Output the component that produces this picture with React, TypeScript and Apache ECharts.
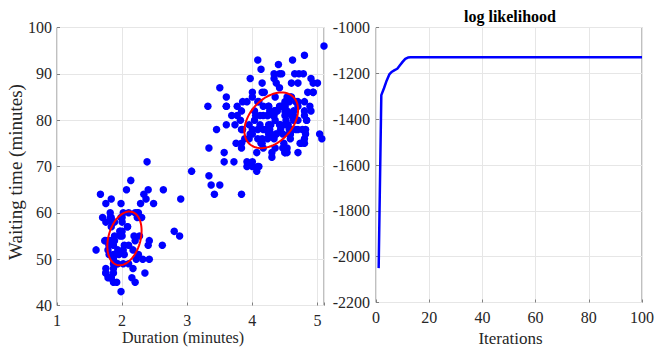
import React, { useEffect, useRef } from "react";
import * as echarts from "echarts";

const durations = [3.6,1.8,3.333,2.283,4.533,2.883,4.7,3.6,1.95,4.35,1.833,3.917,4.2,1.75,4.7,2.167,1.75,4.8,1.6,4.25,1.8,1.75,3.45,3.067,4.533,3.6,1.967,4.083,3.85,4.433,4.3,4.467,3.367,4.033,3.833,2.017,1.867,4.833,1.833,4.783,4.35,1.883,4.567,1.75,4.533,3.317,3.833,2.1,4.633,2,4.8,4.716,1.833,4.833,1.733,4.883,3.717,1.667,4.567,4.317,2.233,4.5,1.75,4.8,1.817,4.4,4.167,4.7,2.067,4.7,4.033,1.967,4.5,4,1.983,5.067,2.017,4.567,3.883,3.6,4.133,4.333,4.1,2.633,4.067,4.933,3.95,4.517,2.167,4,2.2,4.333,1.867,4.817,1.833,4.3,4.667,3.75,1.867,4.9,2.483,4.367,2.1,4.5,4.05,1.867,4.7,1.783,4.85,3.683,4.733,2.3,4.9,4.417,1.7,4.633,2.317,4.6,1.817,4.417,2.617,4.067,4.25,1.967,4.6,3.767,1.917,4.5,2.267,4.65,1.867,4.167,2.8,4.333,1.833,4.383,1.883,4.933,2.033,3.733,4.233,2.233,4.533,4.817,4.333,1.983,4.633,2.017,5.1,1.8,5.033,4,2.4,4.6,3.567,4,4.5,4.083,1.8,3.967,2.2,4.15,2,3.833,3.5,4.583,2.367,5,1.933,4.617,1.917,2.083,4.583,3.333,4.167,4.333,4.5,2.417,4,4.167,1.883,4.583,4.25,3.767,2.033,4.433,4.083,1.833,4.417,2.183,4.8,1.833,4.8,4.1,3.966,4.233,3.5,4.366,2.25,4.667,2.1,4.35,4.133,1.867,4.6,1.783,4.367,3.85,1.933,4.5,2.383,4.7,1.867,3.833,3.417,4.233,2.4,4.8,2,4.15,1.867,4.267,1.75,4.483,4,4.117,4.083,4.267,3.917,4.55,4.083,2.417,4.183,2.217,4.45,1.883,1.85,4.283,3.95,2.333,4.15,2.35,4.933,2.9,4.583,3.833,2.083,4.367,2.133,4.35,2.2,4.45,3.567,4.5,4.15,3.817,3.917,4.45,2,4.283,4.767,4.533,1.85,4.25,1.983,2.25,4.75,4.117,2.15,4.417,1.817,4.467];
const waitings = [79,54,74,62,85,55,88,85,51,85,54,84,78,47,83,52,62,84,52,79,51,47,78,69,74,83,55,76,78,79,73,77,66,80,74,52,48,80,59,90,80,58,84,58,73,83,64,53,82,59,75,90,54,80,54,83,71,64,77,81,59,84,48,82,60,92,78,78,65,73,82,56,79,71,62,76,60,78,76,83,75,82,70,65,73,88,76,80,48,86,60,90,50,78,63,72,84,75,51,82,62,88,49,83,81,47,84,52,86,81,75,59,89,79,59,81,50,85,59,87,53,69,77,56,88,81,45,82,55,90,45,83,56,89,46,82,51,86,53,79,81,60,82,77,76,59,80,49,96,53,77,77,65,81,71,70,81,93,53,89,45,86,58,78,66,76,63,88,52,93,49,57,77,68,81,81,73,50,85,74,55,77,83,83,51,78,84,46,83,55,81,57,76,84,77,81,87,77,51,78,60,82,91,53,78,46,77,84,49,83,71,80,49,75,64,76,53,94,55,76,50,82,54,75,78,79,78,78,70,79,70,54,86,50,90,54,54,77,79,64,75,47,86,63,85,82,57,82,67,74,54,83,73,73,88,80,71,83,56,79,78,84,58,83,43,60,75,81,46,90,46,74];

const clusterMeans = [[2.036, 54.48], [4.29, 79.97]];
const clusterCovs = [[0.0692, 0.435, 33.7], [0.17, 0.941, 36.05]];

const iterations = [1, 2, 3, 4, 5, 6, 7, 8, 9, 10, 11, 12, 13, 100];
const logLik = [-2050, -1295, -1265, -1232, -1205, -1193, -1186, -1180, -1165, -1150, -1137, -1131, -1130, -1130];

const FONT = '"Liberation Serif", "Times New Roman", serif';
const TXT = "#262626";
const AX = "#808080";
const GRIDC = "#e6e6e6";

export default function App() {
  const ref = useRef<HTMLDivElement>(null);
  useEffect(() => {
    document.body.style.margin = "0";
    const chart = echarts.init(ref.current!, null, { renderer: "svg" });
    const scatterData = durations.map((d, i) => [d, waitings[i]]);
    const lineData = iterations.map((it, i) => [it, logLik[i]]);
    const ellipseData = clusterMeans.map((m, i) => [m[0], m[1], i]);
    const label = (margin: number, formatter?: (v: number) => string) => ({
      color: TXT,
      fontFamily: FONT,
      fontSize: 16,
      margin,
      formatter: formatter || ((v: number) => String(v)),
    });
    const axisCommon = {
      axisLine: { show: false },
      axisTick: { show: true, inside: true, length: 3, lineStyle: { color: AX } },
      splitLine: { show: true, lineStyle: { color: GRIDC, width: 1 } },
    };
    chart.setOption({
      animation: false,
      textStyle: { fontFamily: FONT },
      grid: [
        { left: 57, top: 27.5, width: 267, height: 278, show: true, borderColor: AX, borderWidth: 1, backgroundColor: "transparent" },
        { left: 376, top: 27.5, width: 268, height: 275, show: true, borderColor: AX, borderWidth: 1, backgroundColor: "transparent" },
      ],
      xAxis: [
        {
          ...axisCommon, gridIndex: 0, type: "value", min: 1, max: 5.1, interval: 1,
          axisLabel: label(7, (v: number) => (Number.isInteger(v) ? String(v) : "")),
        },
        { ...axisCommon, gridIndex: 1, type: "value", min: 0, max: 100, interval: 20, axisLabel: label(7) },
      ],
      yAxis: [
        { ...axisCommon, gridIndex: 0, type: "value", min: 40, max: 100, interval: 10, axisLabel: label(5) },
        { ...axisCommon, gridIndex: 1, type: "value", min: -2200, max: -1000, interval: 200, axisLabel: label(6) },
      ],
      graphic: [
        { type: "text", x: 183, y: 337, style: { text: "Duration (minutes)", fill: TXT, font: `16px ${FONT}`, textAlign: "center", textVerticalAlign: "middle" } },
        { type: "text", x: 510.5, y: 338, style: { text: "Iterations", fill: TXT, font: `17px ${FONT}`, textAlign: "center", textVerticalAlign: "middle" } },
        { type: "text", x: 15, y: 172, rotation: Math.PI / 2, style: { text: "Waiting time (minutes)", fill: TXT, font: `19px ${FONT}`, textAlign: "center", textVerticalAlign: "middle" } },
        { type: "text", x: 510, y: 16, style: { text: "log likelihood", fill: "#000", font: `bold 16px ${FONT}`, textAlign: "center", textVerticalAlign: "middle" } },
      ],
      series: [
        {
          type: "scatter", xAxisIndex: 0, yAxisIndex: 0, data: scatterData, symbol: "circle", symbolSize: 7.5,
          itemStyle: { color: "#0000ff", opacity: 1 }, z: 2,
        },
        {
          type: "custom", xAxisIndex: 0, yAxisIndex: 0, data: ellipseData, z: 3,
          renderItem: (params: any, api: any) => {
            const idx = api.value(2);
            const m = clusterMeans[idx];
            const c = clusterCovs[idx];
            const a = Math.sqrt(c[0]);
            const b = c[1] / a;
            const d = Math.sqrt(c[2] - b * b);
            const pts: number[][] = [];
            const N = 80;
            for (let k = 0; k <= N; k++) {
              const t = (2 * Math.PI * k) / N;
              pts.push(api.coord([m[0] + a * Math.cos(t), m[1] + b * Math.cos(t) + d * Math.sin(t)]));
            }
            return { type: "polyline", shape: { points: pts }, style: { stroke: "#ff0000", lineWidth: 2, fill: "none" } };
          },
        },
        {
          type: "line", xAxisIndex: 1, yAxisIndex: 1, data: lineData, showSymbol: false, symbol: "none",
          lineStyle: { color: "#0000ff", width: 2.5 },
        },
      ],
    });
    return () => chart.dispose();
  }, []);
  return <div ref={ref} style={{ width: 657, height: 350 }} />;
}
